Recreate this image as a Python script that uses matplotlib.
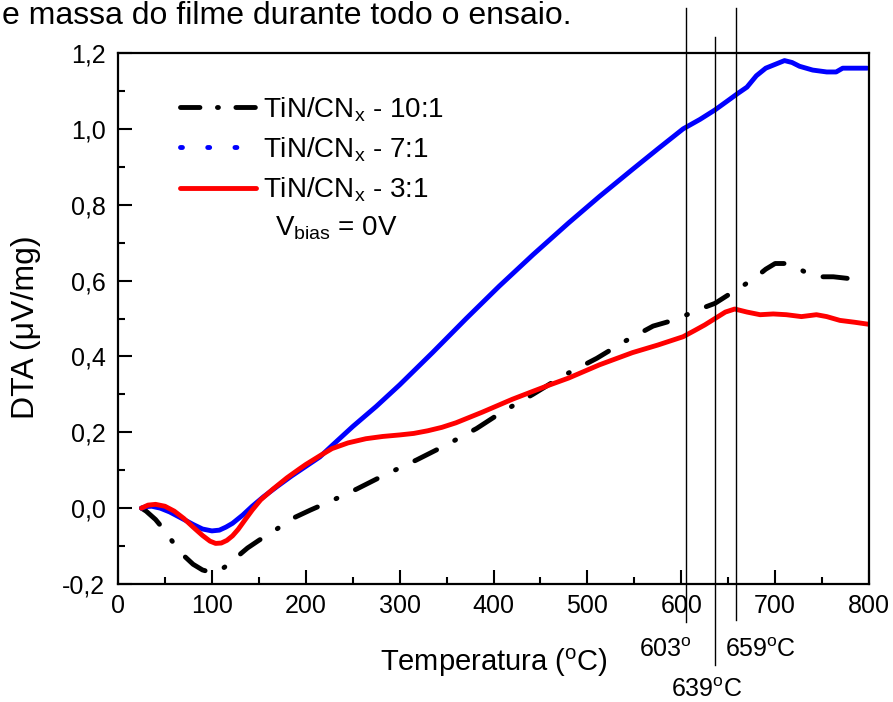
import matplotlib
matplotlib.use("Agg")
import matplotlib.pyplot as plt
from matplotlib.lines import Line2D
from matplotlib.ticker import FuncFormatter, MultipleLocator
import matplotlib.transforms as mtransforms

plt.rcParams['font.family'] = ['Liberation Sans', 'DejaVu Sans']
plt.rcParams['mathtext.fontset'] = 'custom'
plt.rcParams['mathtext.rm'] = 'Liberation Sans'
plt.rcParams['mathtext.it'] = 'Liberation Sans'

# ---- data ----
t_10 = [25, 30, 40, 50, 60, 70, 80, 90, 100, 108, 118, 127, 138, 150, 165, 186, 205, 228, 254,
        282, 318, 350, 382, 410, 442, 475, 510, 540, 570, 591, 606, 620, 636, 655, 668, 680, 690,
        700, 710, 719, 730, 744, 762, 780, 798]
v_10 = [0, -0.008, -0.03, -0.06, -0.095, -0.125, -0.148, -0.163, -0.17, -0.165, -0.148, -0.128,
        -0.105, -0.085, -0.062, -0.027, -0.005, 0.02, 0.05, 0.085, 0.127, 0.167, 0.21, 0.255, 0.30,
        0.35, 0.395, 0.44, 0.48, 0.495, 0.51, 0.525, 0.54, 0.57, 0.59, 0.61, 0.63, 0.645, 0.645,
        0.64, 0.625, 0.61, 0.61, 0.605, 0.60]

t_7 = [25, 30, 36, 45, 55, 68, 80, 90, 100, 108, 115, 122, 133, 143, 155, 170, 185, 200, 215,
       228, 250, 275, 300, 335, 371, 406, 442, 480, 513, 548, 575, 602, 620, 636, 650, 660, 670,
       680, 690, 700, 710, 718, 726, 740, 755, 765, 772, 785, 798]
v_7 = [0, 0.004, 0.005, 0.0, -0.01, -0.027, -0.043, -0.055, -0.06, -0.058, -0.05, -0.04, -0.018,
       0.005, 0.03, 0.058, 0.085, 0.11, 0.135, 0.165, 0.215, 0.268, 0.325, 0.41, 0.50, 0.585,
       0.668, 0.752, 0.822, 0.893, 0.947, 1.0, 1.025, 1.05, 1.075, 1.093, 1.11, 1.14, 1.16, 1.17,
       1.18, 1.175, 1.165, 1.155, 1.15, 1.15, 1.16, 1.16, 1.16]

t_3 = [25, 32, 40, 50, 60, 70, 80, 90, 98, 104, 110, 116, 122, 128, 135, 143, 152, 165, 180,
       193, 200, 215, 228, 245, 264, 282, 300, 315, 330, 345, 360, 388, 420, 442, 460, 480, 513,
       548, 575, 602, 614, 625, 636, 647, 657, 670, 684, 698, 712, 728, 744, 755, 769, 785, 799]
v_3 = [0, 0.008, 0.01, 0.005, -0.008, -0.027, -0.05, -0.072, -0.087, -0.093, -0.092, -0.085,
       -0.073, -0.056, -0.032, -0.005, 0.022, 0.05, 0.08, 0.103, 0.115, 0.138, 0.157, 0.172,
       0.183, 0.189, 0.193, 0.197, 0.204, 0.213, 0.225, 0.253, 0.287, 0.308, 0.325, 0.343, 0.378,
       0.41, 0.43, 0.452, 0.468, 0.483, 0.50, 0.517, 0.525, 0.517, 0.51, 0.512, 0.51, 0.505,
       0.51, 0.505, 0.495, 0.49, 0.485]

series_labels = ['TiN/CN$_\\mathregular{x}$ - 10:1', 'TiN/CN$_\\mathregular{x}$ - 7:1',
                 'TiN/CN$_\\mathregular{x}$ - 3:1']
marker_temps = [605, 636, 658]
marker_labels = ['603$^\\mathregular{o}$', '639$^\\mathregular{o}$C', '659$^\\mathregular{o}$C']
x_ticks = [0, 100, 200, 300, 400, 500, 600, 700, 800]
y_ticks = [-0.2, 0.0, 0.2, 0.4, 0.6, 0.8, 1.0, 1.2]

# ---- figure ----
fig = plt.figure(figsize=(8.93, 7.02), dpi=100)
ax = fig.add_axes([118 / 893, 1 - 584 / 702, 751 / 893, 531 / 702])

lw = 3.5
dashdot = (5.0, 4.2, 0.2, 4.2)
ax.plot(t_10, v_10, color='black', lw=lw, dashes=dashdot, dash_capstyle='round',
        solid_capstyle='round', dash_joinstyle='round')
ax.plot(t_7, v_7, color='#0000FF', lw=lw, solid_capstyle='round', solid_joinstyle='round')
ax.plot(t_3, v_3, color='#FF0000', lw=lw, solid_capstyle='round', solid_joinstyle='round')

ax.set_xlim(0, 800)
ax.set_ylim(-0.2, 1.2)
ax.set_xticks(x_ticks)
ax.set_yticks(y_ticks)
ax.xaxis.set_minor_locator(MultipleLocator(50))
ax.yaxis.set_minor_locator(MultipleLocator(0.1))
ax.yaxis.set_major_formatter(FuncFormatter(lambda v, p: f"{v:.1f}".replace('.', ',')))
ax.xaxis.set_major_formatter(FuncFormatter(lambda v, p: f"{v:.0f}"))
ax.tick_params(which='major', direction='in', length=10, width=1.5, labelsize=18, pad=7)
ax.tick_params(which='minor', direction='in', length=5, width=1.5)
ax.tick_params(axis='y', which='major', pad=9)
for s in ax.spines.values():
    s.set_linewidth(1.6)

ax.set_xlabel('Temperatura ($^\\mathregular{o}$C)', fontsize=21)
ax.xaxis.set_label_coords(0.5, -0.118)
ax.set_ylabel('DTA (\u03bcV/mg)', fontsize=23)
ax.yaxis.set_label_coords(-0.103, 0.484)

# vertical marker lines
trans = mtransforms.blended_transform_factory(ax.transData, ax.transAxes)
line_tops = [1.085, 1.030, 1.085]
line_bottoms = [-0.072, -0.153, -0.068]
for t, top, bot in zip(marker_temps, line_tops, line_bottoms):
    ax.plot([t, t], [bot, top], color='black', lw=1.0, transform=trans, clip_on=False)

label_pos = [(583, -0.124), (627, -0.200), (684, -0.124)]
for (x, y), txt in zip(label_pos, marker_labels):
    ax.text(x, y, txt, transform=trans, fontsize=18, ha='center', va='center')

# legend
handles = [
    Line2D([], [], color='black', lw=lw, dashes=(4.0, 3.6, 0.2, 3.6), dash_capstyle='round'),
    Line2D([], [], color='#0000FF', lw=lw, dashes=(0.4, 5.2), dash_capstyle='round'),
    Line2D([], [], color='#FF0000', lw=lw, solid_capstyle='round'),
]
leg = ax.legend(handles, series_labels, loc='upper left', frameon=False, fontsize=20,
                handlelength=2.73, handletextpad=0.25, labelspacing=0.42, borderpad=0,
                borderaxespad=0,
                bbox_to_anchor=(180 / 893, 1 - 95 / 702), bbox_transform=fig.transFigure)

ax.text(275 / 893, 1 - 236 / 702, 'V$_\\mathregular{bias}$ = 0V', transform=fig.transFigure,
        fontsize=20, ha='left', va='baseline')

fig.text(2 / 893, 1 - 24 / 702, 'e massa do filme durante todo o ensaio.', fontsize=23,
         ha='left', va='baseline')

fig.savefig('out.png', dpi=100)
